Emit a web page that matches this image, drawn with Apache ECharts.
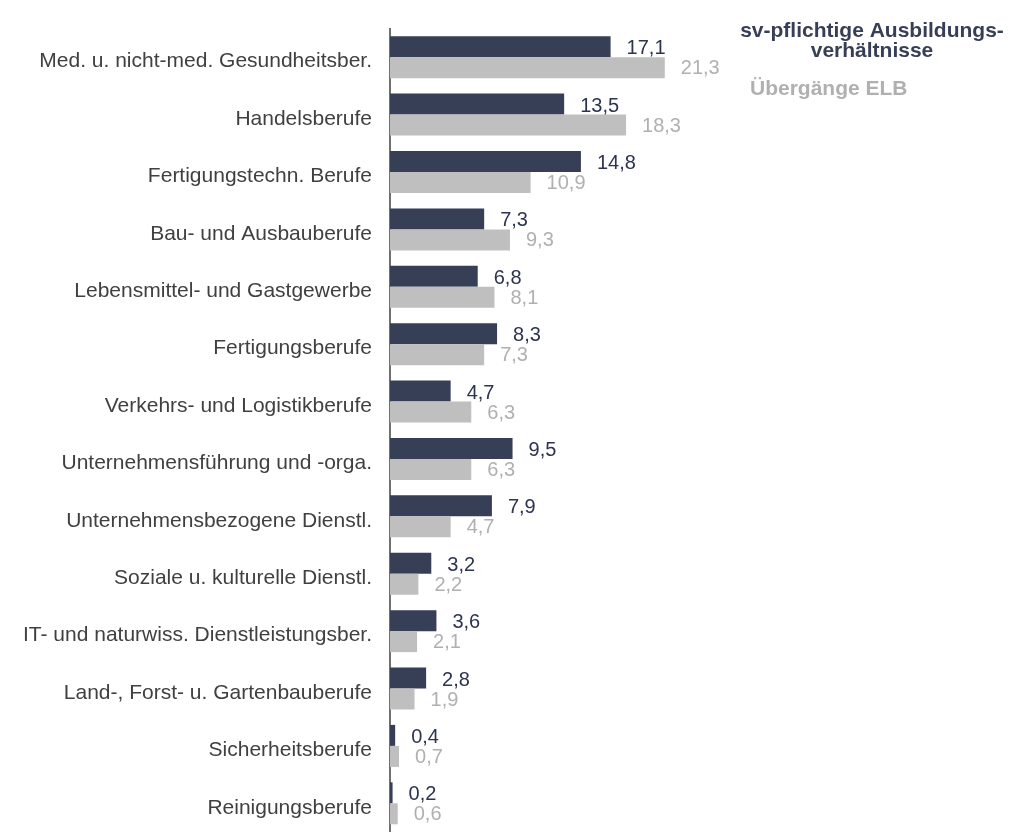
<!DOCTYPE html>
<html>
<head>
<meta charset="utf-8">
<script src="https://cdn.jsdelivr.net/npm/echarts@6/dist/echarts.min.js"></script>
<style>
  html, body { margin: 0; padding: 0; background: #fff; }
  #chart { width: 1022px; height: 832px; }
</style>
</head>
<body>
<div id="chart"></div>
<script>
const categories = [
  'Med. u. nicht-med. Gesundheitsber.',
  'Handelsberufe',
  'Fertigungstechn. Berufe',
  'Bau- und Ausbauberufe',
  'Lebensmittel- und Gastgewerbe',
  'Fertigungsberufe',
  'Verkehrs- und Logistikberufe',
  'Unternehmensführung und -orga.',
  'Unternehmensbezogene Dienstl.',
  'Soziale u. kulturelle Dienstl.',
  'IT- und naturwiss. Dienstleistungsber.',
  'Land-, Forst- u. Gartenbauberufe',
  'Sicherheitsberufe',
  'Reinigungsberufe'
]
const ausbildung = [17.1, 13.5, 14.8, 7.3, 6.8, 8.3, 4.7, 9.5, 7.9, 3.2, 3.6, 2.8, 0.4, 0.2]
const uebergaenge = [21.3, 18.3, 10.9, 9.3, 8.1, 7.3, 6.3, 6.3, 4.7, 2.2, 2.1, 1.9, 0.7, 0.6]

const DARK = '#373f56'
const GREY = '#bfbfbf'
const font = 'Liberation Sans, Arial, sans-serif'
const fmt = (p) => p.value.toFixed(1).replace('.', ',')

const chart = echarts.init(document.getElementById('chart'))
chart.setOption({
  animation: false,
  grid: { left: 390, top: 28.5, width: 322.5, height: 810 },
  xAxis: { type: 'value', min: 0, max: 25, show: false },
  yAxis: {
    type: 'category',
    inverse: true,
    data: categories,
    axisLine: { show: true, lineStyle: { color: '#404040', width: 1.5 } },
    axisTick: { show: false },
    axisLabel: {
      margin: 18,
      formatter: (v) => '{c|' + v + '}',
      rich: {
        c: {
          color: '#404040', fontSize: 21, fontFamily: font,
          padding: [9, 0, 0, 0]
        }
      }
    }
  },
  graphic: [
    {
      type: 'text', x: 872, y: 21,
      style: {
        text: 'sv-pflichtige Ausbildungs-\nverhältnisse', fill: DARK,
        font: 'bold 21px ' + font, align: 'center', lineHeight: 20
      }
    },
    {
      type: 'text', x: 750, y: 79,
      style: { text: 'Übergänge ELB', fill: '#b0b0b0', font: 'bold 21px ' + font }
    }
  ],
  series: [
    {
      name: 'sv-pflichtige Ausbildungsverhältnisse',
      type: 'bar',
      data: ausbildung,
      barWidth: 21,
      barGap: '0%',
      itemStyle: { color: DARK },
      label: {
        show: true, position: 'right', distance: 16, offset: [0, 2],
        color: '#2c3450', fontSize: 20, fontFamily: font, formatter: fmt
      }
    },
    {
      name: 'Übergänge ELB',
      type: 'bar',
      data: uebergaenge,
      barWidth: 21,
      barGap: '0%',
      itemStyle: { color: GREY },
      label: {
        show: true, position: 'right', distance: 16, offset: [0, 1],
        color: '#b0b0b0', fontSize: 20, fontFamily: font, formatter: fmt
      }
    }
  ]
})
</script>
</body>
</html>
